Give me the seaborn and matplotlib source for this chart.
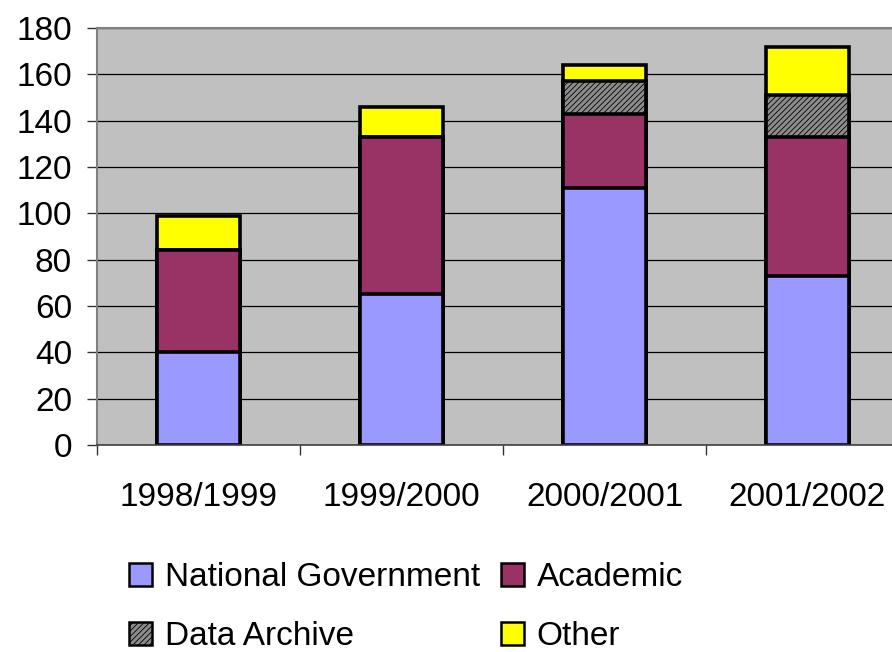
import numpy as np
import pandas as pd
import matplotlib
matplotlib.use("Agg")
import matplotlib.pyplot as plt
from matplotlib.patches import Patch
import seaborn as sns

# Datos
years = ["1998/1999", "1999/2000", "2000/2001", "2001/2002"]
national_government = [40, 65, 111, 73]
academic = [44, 68, 32, 60]
data_archive = [0, 0, 14, 18]
other = [15, 13, 7, 21]

series = ["National Government", "Academic", "Data Archive", "Other"]
colors = {"National Government": "#9999FF", "Academic": "#993366",
          "Data Archive": "#8C8C8C", "Other": "#FFFF00"}
hatches = {"Data Archive": "//////"}

sns.set_style("white")
plt.rcParams["font.family"] = ["Liberation Sans", "DejaVu Sans"]
plt.rcParams["hatch.linewidth"] = 0.6
plt.rcParams["text.color"] = "black"
plt.rcParams["xtick.labelcolor"] = "black"
plt.rcParams["ytick.labelcolor"] = "black"

df = pd.DataFrame({"year": years,
                   "National Government": national_government,
                   "Academic": academic,
                   "Data Archive": data_archive,
                   "Other": other})
# alturas acumuladas (se dibuja de arriba hacia abajo)
cum = df[series].cumsum(axis=1)

fig = plt.figure(figsize=(8.92, 6.52), dpi=100)
ax = fig.add_axes([97 / 892, 1 - 445 / 652, 812 / 892, 417 / 652])
ax.set_facecolor("#C0C0C0")

for s in reversed(series):
    sns.barplot(x=df["year"], y=cum[s], color=colors[s], saturation=1,
                width=0.41, edgecolor="black", linewidth=2.6,
                hatch=hatches.get(s), ax=ax)

ax.set_ylim(0, 180)
ax.set_xlim(-0.5, 3.5)
ax.set_yticks(np.arange(0, 181, 20))
ax.yaxis.grid(True, color="black", linewidth=0.9)
ax.set_axisbelow(True)
ax.set_xlabel("")
ax.set_ylabel("")

ax.tick_params(axis="y", labelsize=24, length=7, width=1, color="#333333",
               pad=11, direction="out", left=True)
ax.tick_params(axis="x", which="major", labelsize=24, length=0, pad=27)
ax.set_xticks([-0.5, 0.5, 1.5, 2.5], minor=True)
ax.tick_params(axis="x", which="minor", length=7, width=1, color="#333333",
               direction="out", bottom=True)

for side in ["left", "top"]:
    ax.spines[side].set_color("#808080")
    ax.spines[side].set_linewidth(1.5)
ax.spines["bottom"].set_color("#404040")
ax.spines["bottom"].set_linewidth(1.2)
ax.spines["right"].set_visible(False)

order = ["National Government", "Data Archive", "Academic", "Other"]
handles = [Patch(facecolor=colors[s], edgecolor="black", linewidth=1.8,
                 hatch=hatches.get(s), label=s) for s in order]
fig.legend(handles=handles, labels=order, ncol=2, frameon=False,
           loc="upper left", bbox_to_anchor=(129 / 892, 1 - 562 / 652),
           fontsize=24, handlelength=0.7, handleheight=0.7,
           handletextpad=0.38, columnspacing=0.62, labelspacing=0.85,
           borderpad=0, borderaxespad=0)

fig.savefig("out.png", dpi=100)
